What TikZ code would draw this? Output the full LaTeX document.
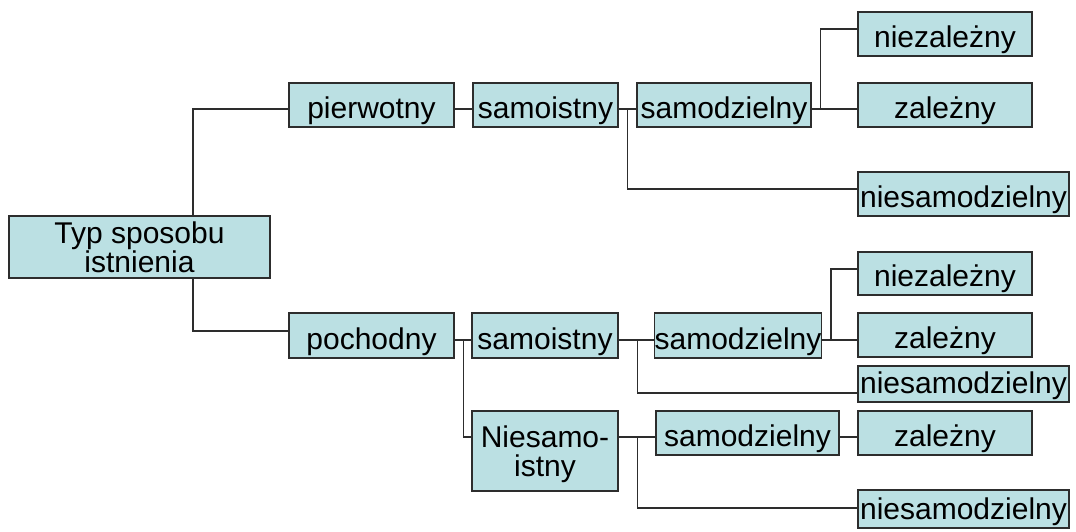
\documentclass[tikz,border=0pt]{standalone}
\usepackage{fontspec}
\setmainfont{Liberation Sans}
\definecolor{boxfill}{RGB}{187,224,227}
\definecolor{edge}{RGB}{45,45,45}
\tikzset{
  box/.style={draw=edge, fill=boxfill, line width=1.2pt, inner sep=0pt,
    font=\fontsize{30pt}{29pt}\selectfont, text=black},
  conn/.style={draw=edge, line width=1.3pt}
}
% single-line box: name, x1, y1, x2, y2, text (pixel coordinates, y downwards)
\newcommand\bx[6]{\node[box, text depth=6pt, text height={(#5-#3-12)*1pt},
  minimum width={(#4-#2)*1pt}, minimum height={(#5-#3)*1pt}]
  (#1) at ({(#2+#4)/2},{(#3+#5)/2}) {#6};}
% multi-line box
\newcommand\bxm[7][]{\node[box, align=center, #1,
  minimum width={(#5-#3)*1pt}, minimum height={(#6-#4)*1pt}]
  (#2) at ({(#3+#5)/2},{(#4+#6)/2}) {#7};}
\begin{document}
\begin{tikzpicture}[x=1pt,y=-1pt]
\useasboundingbox (0,0) rectangle (1076,531);
% boxes
\bxm{root}{9}{216}{270}{278}{Typ sposobu\\istnienia}
\bx{pier}{289}{83}{454}{127}{pierwotny}
\bx{sam1}{473}{83}{618}{127}{samoistny}
\bx{sd1}{637}{83}{811}{127}{samodzielny}
\bx{niez1}{858}{12}{1032}{56}{niezależny}
\bx{zal1}{858}{83}{1032}{127}{zależny}
\bx{nsd1}{858}{172}{1069}{216}{niesamodzielny}
\bx{poch}{289}{313}{454}{358}{pochodny}
\bx{sam2}{472}{313}{618}{358}{samoistny}
\bxm[text depth=0pt]{nsam}{472}{411}{618}{491}{Niesamo-\\istny}
\bx{sd2}{656}{313}{820}{358}{samodzielny}
\bx{niez2}{858}{252}{1032}{295}{niezależny}
\bx{zal2}{858}{313}{1032}{357}{zależny}
\bx{nsd2}{858}{366}{1069}{402}{niesamodzielny}
\bx{sd3}{656}{411}{839}{455}{samodzielny}
\bx{zal3}{858}{411}{1032}{455}{zależny}
\bx{nsd3}{858}{490}{1069}{528}{niesamodzielny}
% connectors: upper branch
\draw[conn] ([yshift=-4pt]pier.west) -| ([xshift=53.5pt]root.north);
\draw[conn] ([yshift=-4pt]pier.east) -- ([yshift=-4pt]sam1.west);
\draw[conn] ([yshift=-4pt]sam1.east) -- ([yshift=-4pt]sd1.west);
\draw[conn] ([yshift=5pt]nsd1.west) -| ([xshift=9pt,yshift=-4pt]sam1.east);
\draw[conn] ([yshift=-4pt]sd1.east) -- ([yshift=-4pt]zal1.west);
\draw[conn] ([yshift=5pt]niez1.west) -| ([xshift=9pt,yshift=-4pt]sd1.east);
% connectors: lower branch
\draw[conn] ([yshift=4.5pt]poch.west) -| ([xshift=53.5pt]root.south);
\draw[conn] ([yshift=-4.5pt]poch.east) -- ([yshift=-4.5pt]sam2.west);
\draw[conn] ([yshift=14pt]nsam.west) -| ([xshift=9pt,yshift=-4.5pt]poch.east);
\draw[conn] ([yshift=-4.5pt]sam2.east) -- ([yshift=-4.5pt]sd2.west);
\draw[conn] ([yshift=-9pt]nsd2.west) -| ([xshift=19pt,yshift=-4.5pt]sam2.east);
\draw[conn] ([yshift=-4.5pt]sd2.east) -- ([yshift=-5pt]zal2.west);
\draw[conn] ([yshift=4.5pt]niez2.west) -| ([xshift=9pt,yshift=-4.5pt]sd2.east);
\draw[conn] ([yshift=14pt]nsam.east) -- ([yshift=-4pt]sd3.west);
\draw[conn] ([yshift=1pt]nsd3.west) -| ([xshift=19pt,yshift=14pt]nsam.east);
\draw[conn] ([yshift=-4pt]sd3.east) -- ([yshift=-4pt]zal3.west);
\end{tikzpicture}
\end{document}
